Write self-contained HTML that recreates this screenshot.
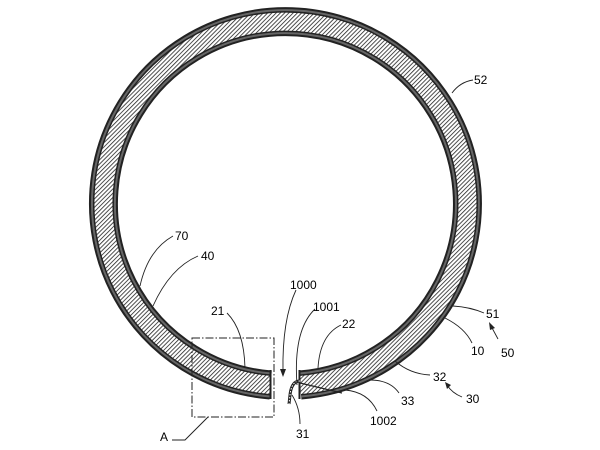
<!DOCTYPE html>
<html><head><meta charset="utf-8"><style>
html,body{margin:0;padding:0;background:#fff;}
svg{display:block;}
text{font-family:"Liberation Sans",sans-serif;font-size:12px;fill:#000;}
</style></head><body>
<svg width="600" height="450" viewBox="0 0 600 450" xmlns="http://www.w3.org/2000/svg">
<defs>
<pattern id="h" width="3" height="3" patternUnits="userSpaceOnUse" patternTransform="rotate(45)">
<rect width="3" height="3" fill="#fff"/>
<line x1="0" y1="0" x2="0" y2="3" stroke="#222" stroke-width="1.6"/>
</pattern>
</defs>
<g fill="none" stroke-linecap="butt">
<path d="M 270.6 385 A 182 182 0 1 1 300.3 385" stroke="#222" stroke-width="29"/>
<path d="M 270.6 385 A 182 182 0 1 1 300.3 385" stroke="#666" stroke-width="25"/>
<path d="M 270.6 385 A 182 182 0 1 1 300.3 385" stroke="#222" stroke-width="21"/>
<path d="M 270.6 385 A 182 182 0 1 1 300.3 385" stroke="url(#h)" stroke-width="18"/>
</g>
<line x1="270.5" y1="370" x2="270.5" y2="399" stroke="#222" stroke-width="2"/>
<line x1="299.5" y1="370" x2="299.5" y2="399" stroke="#222" stroke-width="2"/>
<line x1="300" y1="383" x2="342" y2="393" stroke="#222" stroke-width="1.2"/>
<path d="M 300 381 C 294 381 291 386 290 395 L 289 404" stroke="#222" stroke-width="3" fill="none"/>
<path d="M 300 381 C 294 381 291 386 290 395 L 289 404" stroke="#fff" stroke-width="1" fill="none" stroke-dasharray="1.5 1.5"/>
<rect x="192" y="338" width="82" height="79" fill="none" stroke="#222" stroke-width="1" stroke-dasharray="8 2 1.5 2"/>
<path d="M 208 417 L 185 440 L 172 440" fill="none" stroke="#222" stroke-width="1"/>
<text x="160" y="441">A</text>
<g fill="none" stroke="#222" stroke-width="0.9">
<path d="M 452 93 Q 460 82 473 80"/>
<path d="M 140 286 Q 148 250 173 236"/>
<path d="M 153 306 Q 170 268 198 256"/>
<path d="M 227 313 Q 244 330 245 368"/>
<path d="M 296 290 Q 282 320 283 372"/>
<path d="M 315 309 Q 293 330 297 385"/>
<path d="M 341 325 Q 320 335 318 368"/>
<path d="M 453 306 Q 470 307 484 313"/>
<path d="M 445 318 Q 465 328 472 343"/>
<path d="M 498 339 L 491 326"/>
<path d="M 395 361 Q 410 374 430 375"/>
<path d="M 462 397 Q 452 393 447 385"/>
<path d="M 370 380 Q 390 380 399 393"/>
<path d="M 345 390 Q 368 392 377 411"/>
<path d="M 292 395 Q 300 408 300 424"/>
</g>
<g fill="#222">
<polygon points="283,377 280,369 286,369"/>
<polygon points="489,322 495,328 490,330"/>
<polygon points="445,382 451,385 447,389"/>
</g>
<text x="474" y="84">52</text>
<text x="175" y="240">70</text>
<text x="201" y="260">40</text>
<text x="211" y="315">21</text>
<text x="290" y="289">1000</text>
<text x="313" y="311">1001</text>
<text x="342" y="328">22</text>
<text x="486" y="318">51</text>
<text x="471" y="355">10</text>
<text x="501" y="357">50</text>
<text x="433" y="381">32</text>
<text x="466" y="403">30</text>
<text x="401" y="405">33</text>
<text x="370" y="425">1002</text>
<text x="296" y="438">31</text>
</svg>
</body></html>
